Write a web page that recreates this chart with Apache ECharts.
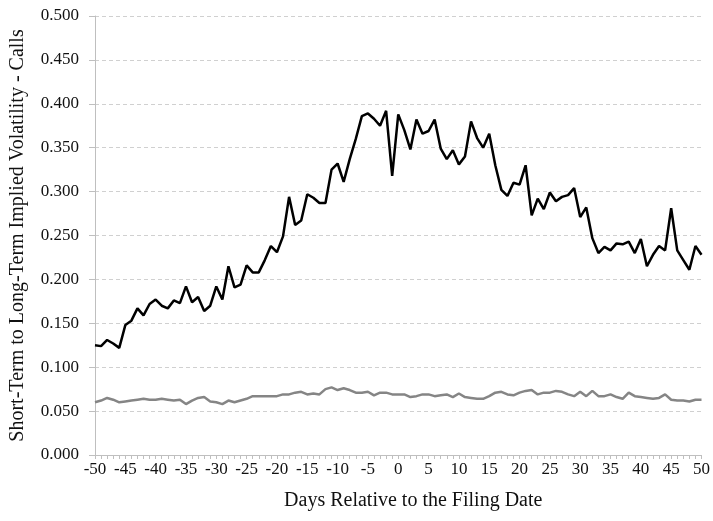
<!DOCTYPE html>
<html>
<head>
<meta charset="utf-8">
<script src="https://cdn.jsdelivr.net/npm/echarts@6/dist/echarts.min.js"></script>
<style>html,body{margin:0;padding:0;background:#fff;}#c{width:713px;height:521px;}</style>
</head>
<body>
<div id="c"></div>
<script>
var days = [];
for (var d = -50; d <= 50; d++) days.push(String(d));

var calls = [
0.125,0.124,0.131,0.127,0.122,0.148,0.153,0.167,0.159,0.172,
0.177,0.170,0.167,0.176,0.173,0.192,0.174,0.180,0.164,0.170,
0.192,0.177,0.215,0.191,0.194,0.216,0.208,0.208,0.222,0.238,
0.231,0.249,0.294,0.262,0.267,0.297,0.293,0.287,0.287,0.325,
0.332,0.311,0.337,0.360,0.386,0.389,0.383,0.375,0.392,0.318,
0.388,0.370,0.348,0.382,0.366,0.369,0.382,0.349,0.337,0.347,
0.331,0.340,0.380,0.361,0.350,0.366,0.330,0.302,0.295,0.310,
0.308,0.330,0.273,0.292,0.280,0.299,0.289,0.294,0.296,0.304,
0.271,0.282,0.247,0.230,0.237,0.233,0.241,0.240,0.243,0.230,
0.246,0.215,0.228,0.238,0.233,0.281,0.233,0.222,0.211,0.238,
0.228
];

var baseline = [
0.060,0.062,0.065,0.063,0.060,0.061,0.062,0.063,0.064,0.063,
0.063,0.064,0.063,0.062,0.063,0.058,0.062,0.065,0.066,0.061,
0.060,0.058,0.062,0.060,0.062,0.064,0.067,0.067,0.067,0.067,
0.067,0.069,0.069,0.071,0.072,0.069,0.070,0.069,0.075,0.077,
0.074,0.076,0.074,0.071,0.071,0.072,0.068,0.071,0.071,0.069,
0.069,0.069,0.066,0.067,0.069,0.069,0.067,0.068,0.069,0.066,
0.070,0.066,0.065,0.064,0.064,0.067,0.071,0.072,0.069,0.068,
0.071,0.073,0.074,0.069,0.071,0.071,0.073,0.072,0.069,0.067,
0.072,0.067,0.073,0.067,0.067,0.069,0.066,0.064,0.071,0.067,
0.066,0.065,0.064,0.065,0.069,0.063,0.062,0.062,0.061,0.063,
0.063
];

var chart = echarts.init(document.getElementById('c'));
var font = '"Liberation Serif", "DejaVu Serif", serif';
chart.setOption({
  animation: false,
  grid: {left: 93, right: 6, top: 16, bottom: 66, containLabel: false},
  xAxis: {
    type: 'category',
    data: days,
    boundaryGap: false,
    name: 'Days Relative to the Filing Date',
    nameLocation: 'middle',
    nameGap: 36,
    nameTextStyle: {fontFamily: font, fontSize: 20, color: '#111', verticalAlign: 'top', padding: [0, 0, 0, 30]},
    axisLine: {lineStyle: {color: '#bfbfbf', width: 1}},
    axisTick: {show: true, interval: 0, length: 4, lineStyle: {color: '#bfbfbf'}},
    axisLabel: {interval: 4, fontFamily: font, fontSize: 17, color: '#111', margin: 6},
    splitLine: {show: false}
  },
  yAxis: {
    type: 'value',
    min: 0, max: 0.5, interval: 0.05,
    name: 'Short-Term to Long-Term Implied Volatility - Calls',
    nameLocation: 'middle',
    nameGap: 67,
    nameTextStyle: {fontFamily: font, fontSize: 20, color: '#111'},
    axisLine: {show: true, lineStyle: {color: '#bfbfbf', width: 1}},
    axisTick: {show: true, length: 6, lineStyle: {color: '#bfbfbf'}},
    axisLabel: {fontFamily: font, fontSize: 17, color: '#111', margin: 16,
      formatter: function (v) { return v.toFixed(3); }},
    splitLine: {show: true, lineStyle: {color: '#d0d0d0', type: [4, 3], width: 1}}
  },
  series: [
    {type: 'line', data: calls, symbol: 'none', lineStyle: {color: '#000', width: 2.5}, z: 3},
    {type: 'line', data: baseline, symbol: 'none', lineStyle: {color: '#858585', width: 2.5}, z: 2}
  ]
});
</script>
</body>
</html>
